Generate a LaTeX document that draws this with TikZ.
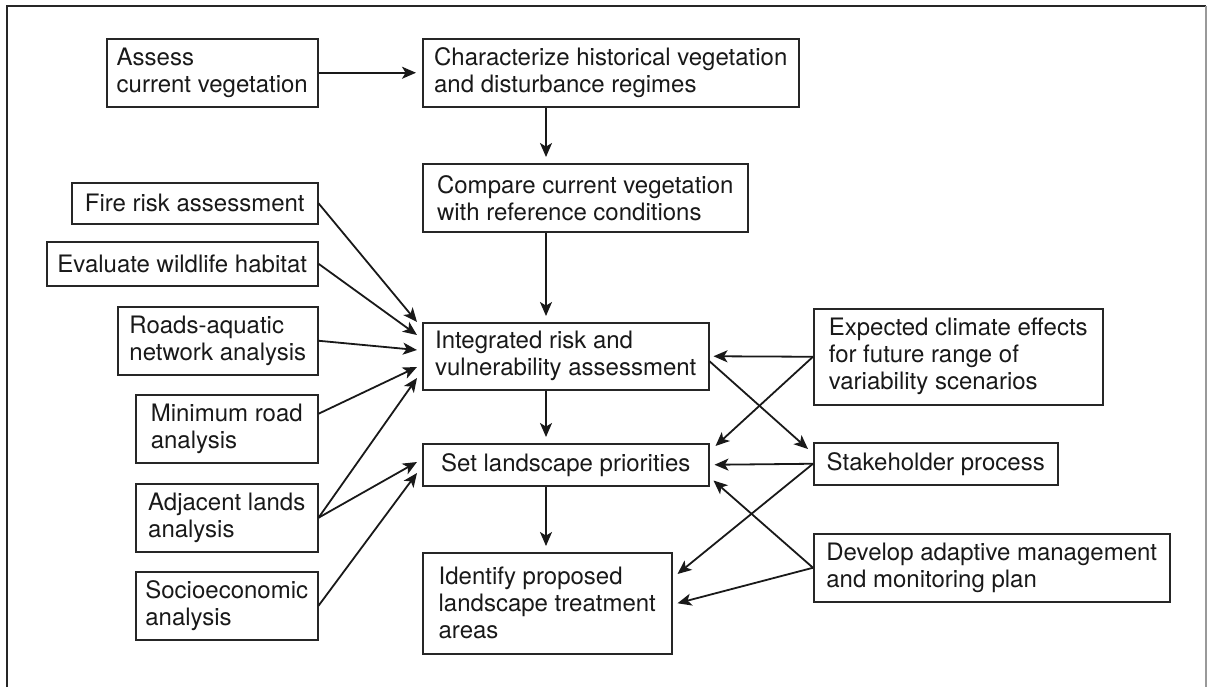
\documentclass[tikz,border=0pt]{standalone}
\usepackage{fontspec}
\setmainfont{TeX Gyre Heros}
\usetikzlibrary{calc,arrows.meta}

\begin{document}
\begin{tikzpicture}[x=0.5pt, y=-0.5pt,
  font=\fontsize{12}{13.5}\selectfont,
  box/.style={draw=black!85, line width=0.75pt, align=left, anchor=north west, inner sep=2pt, text=black!90},
  arr/.style={draw=black!90, line width=0.9pt, -{Stealth[length=7pt, width=6pt, inset=1.8pt]}}]
\useasboundingbox (0,0) rectangle (1207,687);
% outer frame, open at the bottom
\draw[line width=0.8pt, black!85] (7,687) -- (7,6) -- (1206,6);
\draw[line width=0.6pt, black!40] (1206,6) -- (1206,687);
% main chain
\node[box, minimum width=105.5pt, minimum height=34pt] (ass) at (106,38) {Assess\\current vegetation};
\node[box, minimum width=188pt, minimum height=34pt] (chr) at (422,38) {Characterize historical vegetation\\and disturbance regimes};
\node[box, minimum width=162.5pt, minimum height=34pt] (cmp) at (422,163) {Compare current vegetation\\with reference conditions};
\node[box, minimum width=143pt, minimum height=33.5pt] (risk) at (422,322) {Integrated risk and\\vulnerability assessment};
\node[box, minimum width=143pt, minimum height=21pt] (prio) at (422,443) {Set landscape priorities};
\node[box, minimum width=124.5pt, minimum height=50.5pt] (treat) at (422,552) {Identify proposed\\landscape treatment\\areas};
% analyses on the left
\node[box, minimum width=123pt, minimum height=20.5pt] (fire) at (71,182) {Fire risk assessment};
\node[box, minimum width=135.5pt, minimum height=22pt] (wild) at (46,241) {Evaluate wildlife habitat};
\node[box, minimum width=100pt, minimum height=34pt] (road) at (117,306) {Roads-aquatic\\network analysis};
\node[box, minimum width=91pt, minimum height=34pt] (minr) at (135,394) {Minimum road\\analysis};
\node[box, minimum width=91pt, minimum height=34pt] (adj) at (135,483) {Adjacent lands\\analysis};
\node[box, minimum width=91pt, minimum height=34pt] (soc) at (135,571) {Socioeconomic\\analysis};
% inputs on the right
\node[box, minimum width=144.5pt, minimum height=48pt] (clim) at (813,308) {Expected climate effects\\for future range of\\variability scenarios};
\node[box, minimum width=122pt, minimum height=21pt] (stake) at (813,442) {Stakeholder process};
\node[box, minimum width=178pt, minimum height=34pt] (adapt) at (813,533) {Develop adaptive management\\and monitoring plan};
% connectors
\draw[arr] (ass.east) -- ($(chr.west)+(-6,0)$);
\draw[arr] ($(chr.south west)+(124,0)$) -- ($(cmp.north west)+(124,-6)$);
\draw[arr] ($(cmp.south west)+(124,0)$) -- ($(risk.north west)+(124,-6)$);
\draw[arr] ($(risk.south west)+(124,0)$) -- ($(prio.north west)+(124,-6)$);
\draw[arr] ($(prio.south west)+(124,0)$) -- ($(treat.north west)+(124,-6)$);
\draw[arr] (fire.east) -- ($(risk.north west)+(-5,0)$);
\draw[arr] (wild.east) -- ($(risk.north west)+(-5,13)$);
\draw[arr] (road.east) -- ($(risk.north west)+(-5,28)$);
\draw[arr] ($(minr.east)+(0,-15)$) -- ($(risk.north west)+(-5,45)$);
\draw[arr] (adj.east) -- ($(risk.north west)+(-5,56)$);
\draw[arr] (adj.east) -- ($(prio.north west)+(-5,19)$);
\draw[arr] (soc.east) -- ($(prio.north west)+(-5,30)$);
\draw[arr] (clim.west) -- ($(risk.east)+(4,0)$);
\draw[arr] (clim.west) -- ($(prio.north east)+(6,3)$);
\draw[arr] ($(risk.east)+(0,5)$) -- ($(stake.north west)+(-5,7)$);
\draw[arr] (stake.west) -- ($(prio.east)+(5,0)$);
\draw[arr] (stake.west) -- ($(treat.north east)+(5,22)$);
\draw[arr] (adapt.west) -- ($(prio.south east)+(4,-6)$);
\draw[arr] (adapt.west) -- ($(treat.east)+(5,0)$);
\end{tikzpicture}
\end{document}
